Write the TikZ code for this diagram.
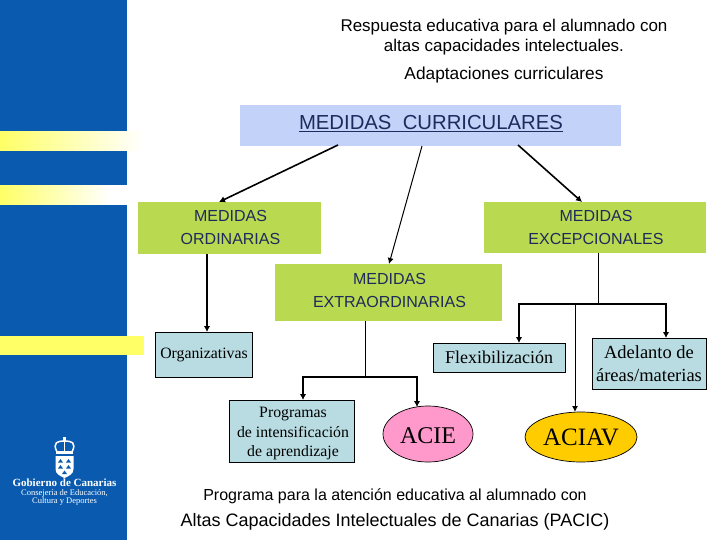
\documentclass[tikz,border=0pt]{standalone}
\usepackage{fontspec}
\setmainfont{Liberation Serif}
\setsansfont{Liberation Sans}
\usetikzlibrary{shapes.geometric,arrows.meta}
\definecolor{gcblue}{HTML}{0A5BB0}
\definecolor{bandy}{HTML}{FFFF66}
\definecolor{limeg}{HTML}{B8D950}
\definecolor{topb}{HTML}{C2D2F8}
\definecolor{paleb}{HTML}{B8DCE2}
\definecolor{navy}{HTML}{1F2A5C}
\definecolor{pinkf}{HTML}{FF99CC}
\definecolor{goldf}{HTML}{FFCC00}
\tikzset{
  x=1pt,y=-1pt,
  sanstext/.style={font=\sffamily\fontsize{16}{23}\selectfont,text=navy,align=center,inner sep=0pt},
  limebox/.style={fill=limeg,inner sep=0pt},
  palebox/.style={fill=paleb,draw=black,line width=0.8pt,inner sep=0pt,align=center},
  thinline/.style={line width=0.9pt,black},
  thick arrow/.style={line width=1.6pt,black,-{Latex[length=6pt,width=6.5pt]}},
  thin arrow/.style={line width=1pt,black,-{Latex[length=6pt,width=6pt]}},
  caption/.style={font=\sffamily,text=black,align=center,inner sep=0pt},
  spaced/.style={font=\fontsize{15.8}{19.5}\selectfont,align=center,inner sep=0pt},
}
\begin{document}
\begin{tikzpicture}
\useasboundingbox (0,0) rectangle (720,540);
\fill[white] (0,0) rectangle (720,540);
% left band
\fill[gcblue] (0,0) rectangle (127,540);
\fill[white] (0,131.5) rectangle (143,151);
\shade[left color=bandy,right color=white] (0,132) rectangle (143,151);
\fill[white] (0,185.5) rectangle (143,205);
\shade[left color=bandy,right color=white] (0,186) rectangle (110,205);
\fill[bandy] (0,336) rectangle (144,355);
% crest
\fill[white] (55.5,456) -- (73.5,456) -- (73.5,469) .. controls (73.5,474) and (69,476) .. (64.5,478) .. controls (60,476) and (55.5,474) .. (55.5,469) -- cycle;
\foreach \py in {459,465}{
  \fill[gcblue] (58,\py+3.5) -- (60.5,\py) -- (63,\py+3.5) -- cycle;
  \fill[gcblue] (66,\py+3.5) -- (68.5,\py) -- (71,\py+3.5) -- cycle;
}
\fill[gcblue] (62,474) -- (64.5,470.5) -- (67,474) -- cycle;
\draw[white,line width=1.5pt] (57,452) .. controls (52,442) and (58,441) .. (64.5,441) .. controls (71,441) and (77,442) .. (72,452) -- cycle;
\draw[white,line width=1pt] (64.5,441) -- (64.5,452);
\fill[white] (56,451) rectangle (73,454);
\fill[white] (63.3,436.5) rectangle (65.7,441);
\node[inner sep=0pt,text=white,font=\fontsize{11}{12}\bfseries\selectfont] (gobt) at (64.5,482.5) {Gobierno de Canarias};
\node[inner sep=0pt,text=white,font=\fontsize{8.5}{8}\selectfont,align=center] (cons) at (64.5,497.5) {Consejería de Educación,\\Cultura y Deportes};
% titles
\node[caption,font=\sffamily\fontsize{17}{20}\selectfont] (title) at (504,37) {Respuesta educativa para el alumnado con\\altas capacidades intelectuales.};
\node[caption,font=\sffamily\fontsize{17.3}{20}\selectfont] (sub) at (504,75) {Adaptaciones curriculares};
% boxes
\node[fill=topb,minimum width=381pt,minimum height=41pt,inner sep=0pt] (top) at (430.5,125.5) {};
\node[inner sep=0pt,text=navy,font=\sffamily\fontsize{20.3}{22}\selectfont] (toplabel) at (431,124) {\underline{MEDIDAS\ \ CURRICULARES}};
\node[limebox,minimum width=183pt,minimum height=52pt] (ord) at (229.5,228) {};
\node[sanstext] (ordt) at (230.5,227) {MEDIDAS\\ORDINARIAS};
\node[limebox,minimum width=222pt,minimum height=51pt] (exc) at (595,227.5) {};
\node[sanstext] (exct) at (596,227) {MEDIDAS\\EXCEPCIONALES};
\node[limebox,minimum width=227pt,minimum height=57pt] (ext) at (388.5,292.5) {};
\node[sanstext] (extt) at (389.5,290) {MEDIDAS\\EXTRAORDINARIAS};
\node[palebox,minimum width=97pt,minimum height=45pt,font=\fontsize{15.8}{18}\selectfont] (org) at (204,354.5) {Organizativas};
\node[palebox,minimum width=125pt,minimum height=62pt] (prog) at (291.5,431) {};
\node[spaced] (progt) at (293,434) {Programas\\de intensificación\\de aprendizaje};
\node[palebox,minimum width=132pt,minimum height=29pt,font=\fontsize{18}{20}\selectfont] (flex) at (499,357.5) {Flexibilización};
\node[palebox,minimum width=114pt,minimum height=51pt,font=\fontsize{18.5}{23}\selectfont] (adel) at (649,363.5) {Adelanto de\\áreas/materias};
\node[ellipse,draw=black,line width=0.7pt,fill=pinkf,minimum width=90pt,minimum height=56pt,inner sep=0pt] (acie) at (428,434) {};
\node[inner sep=0pt,font=\fontsize{24}{26}\selectfont] (aciet) at (428,436) {ACIE};
\node[ellipse,draw=black,line width=0.7pt,fill=goldf,minimum width=112pt,minimum height=50pt,inner sep=0pt,font=\fontsize{25}{27}\selectfont] (aciav) at (581,437) {ACIAV};
% connectors
\coordinate (t1) at (338,145); \coordinate (o1) at (219,202);
\coordinate (t2) at (422,146); \coordinate (e1) at (389,264);
\coordinate (t3) at (518,145); \coordinate (x1) at (582,202);
\draw[thick arrow] (t1) -- (o1);
\draw[thin arrow] (t2) -- (e1);
\draw[thick arrow] (t3) -- (x1);
\coordinate (o2) at (207,254); \coordinate (o3) at (207,332);
\draw[thick arrow] (o2) -- (o3);
\coordinate (m1) at (365.5,321); \coordinate (m2) at (365.5,377);
\draw[thinline] (m1) -- (m2);
\coordinate (pa) at (303,377); \coordinate (pb) at (303,400);
\coordinate (ia) at (417,377); \coordinate (ib) at (417,407);
\draw[thick arrow] (m2) -- (pa) -- (pb);
\draw[thick arrow] (m2) -- (ia) -- (ib);
\coordinate (q1) at (598,253); \coordinate (q2) at (598,304);
\draw[thinline] (q1) -- (q2);
\coordinate (fa) at (519,304); \coordinate (fb) at (519,343);
\coordinate (aa) at (666,304); \coordinate (ab) at (666,338);
\draw[thick arrow] (q2) -- (fa) -- (fb);
\draw[thick arrow] (q2) -- (aa) -- (ab);
\coordinate (va) at (575,304); \coordinate (vb) at (575,412);
\draw[thin arrow] (va) -- (vb);
% footer
\node[caption,font=\sffamily\fontsize{16}{18}\selectfont] (foot1) at (395,496) {Programa para la atención educativa al alumnado con};
\node[caption,font=\sffamily\fontsize{18}{20}\selectfont] (foot2) at (395,522) {Altas Capacidades Intelectuales de Canarias (PACIC)};
\end{tikzpicture}
\end{document}
